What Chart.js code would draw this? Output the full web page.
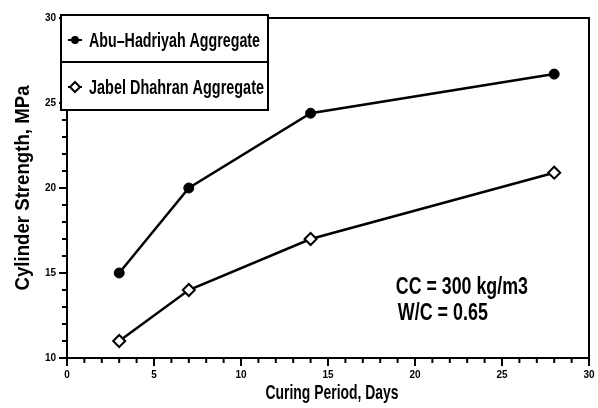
<!DOCTYPE html>
<html>
<head>
<meta charset="utf-8">
<script src="https://cdn.jsdelivr.net/npm/chart.js@4.4.1/dist/chart.umd.min.js"></script>
<style>
  html, body { margin: 0; padding: 0; background: #fff; }
  #wrap { width: 598px; height: 408px; }
</style>
</head>
<body>
<div id="wrap"><canvas id="grafico"></canvas></div>
<script>
// giorni di maturazione e resistenze a compressione (MPa)
const giorni = [3, 7, 14, 28];
const abuHadriyah = [15, 20, 24.4, 26.7];
const jabelDhahran = [11, 14, 17, 20.9];
const etichette = ['Abu\u2013Hadriyah Aggregate', 'Jabel Dhahran Aggregate'];
const titoloX = 'Curing Period, Days';
const titoloY = 'Cylinder Strength, MPa';
const nota = ['CC = 300 kg/m3', 'W/C = 0.65'];

const FONT = '"Liberation Sans", Arial, sans-serif';

function punti(valori) {
    return giorni.map((g, i) => ({ x: g, y: valori[i] }));
}

// testo stretto: schiaccia il carattere in orizzontale fino alla larghezza voluta
function testoStretto(c, testo, x, y, larghezza, ruota) {
    c.save();
    c.translate(x, y);
    if (ruota) c.rotate(-Math.PI / 2);
    const w = c.measureText(testo).width;
    c.scale(larghezza / w, 1);
    c.fillText(testo, 0, 0);
    c.restore();
}

// cornice, tacche minori, legenda a riquadro, titoli e nota
const decorazioni = {
    id: 'decorazioni',
    afterDraw(chart) {
        const c = chart.ctx;
        const a = chart.chartArea;
        const sx = chart.scales.x, sy = chart.scales.y;
        c.save();
        c.strokeStyle = '#000';
        c.fillStyle = '#000';
        c.lineWidth = 2;
        c.strokeRect(a.left, a.top, a.right - a.left, a.bottom - a.top);

        // tacche minori
        c.lineWidth = 2;
        for (let v = 1; v < 30; v++) {
            if (v % 5 === 0) continue;
            const px = sx.getPixelForValue(v);
            c.beginPath(); c.moveTo(px, a.bottom); c.lineTo(px, a.bottom + 5); c.stroke();
        }
        for (let v = 11; v < 30; v++) {
            if (v % 5 === 0) continue;
            const py = sy.getPixelForValue(v);
            c.beginPath(); c.moveTo(a.left, py); c.lineTo(a.left - 5, py); c.stroke();
        }

        // legenda
        const lx = a.left - 6, ly = a.top - 3, lw = 207, lh = 95;
        c.fillStyle = '#fff';
        c.fillRect(lx, ly, lw, lh);
        c.fillStyle = '#000';
        c.lineWidth = 2;
        c.strokeRect(lx, ly, lw, lh);
        c.beginPath(); c.moveTo(lx, ly + 47); c.lineTo(lx + lw, ly + 47); c.stroke();
        c.font = 'bold 21px ' + FONT;
        c.textBaseline = 'middle';
        const larghezze = [171, 175];
        chart.data.datasets.forEach((ds, i) => {
            const cy = ly + 25 + i * 47;
            const mx = lx + 14;
            c.lineWidth = 2;
            c.beginPath(); c.moveTo(mx - 7, cy); c.lineTo(mx + 7, cy); c.stroke();
            if (i === 0) {
                c.beginPath(); c.arc(mx, cy, 4, 0, Math.PI * 2); c.fill();
            } else {
                c.fillStyle = '#fff';
                c.beginPath();
                c.moveTo(mx, cy - 5); c.lineTo(mx + 5, cy);
                c.lineTo(mx, cy + 5); c.lineTo(mx - 5, cy); c.closePath();
                c.fill(); c.stroke();
                c.fillStyle = '#000';
            }
            testoStretto(c, ds.label, lx + 28, cy + 1, larghezze[i]);
        });

        // titoli degli assi
        c.font = 'bold 21px ' + FONT;
        c.textBaseline = 'middle';
        c.textAlign = 'center';
        testoStretto(c, titoloX, (a.left + a.right) / 2 + 4, 393, 133);
        testoStretto(c, titoloY, 23, 188, 205, true);

        // nota sul dosaggio
        c.textAlign = 'left';
        c.textBaseline = 'alphabetic';
        c.font = 'bold 24px ' + FONT;
        const nx = sx.getPixelForValue(18.9);
        testoStretto(c, nota[0], nx, sy.getPixelForValue(13.75), 132);
        testoStretto(c, nota[1], nx + 2, sy.getPixelForValue(12.25), 90);
        c.restore();
    }
};

const scalaComune = {
    border: { display: true, color: '#000', width: 2 },
    grid: {
        display: true,
        drawOnChartArea: false,
        drawTicks: true,
        tickLength: 8,
        lineWidth: 2,
        color: (ctx) => (ctx.tick && ctx.tick.value % 5 === 0) ? '#000' : 'rgba(0,0,0,0)'
    }
};

const grafico = new Chart(document.getElementById('grafico'), {
    type: 'line',
    data: {
        datasets: [{
            label: etichette[0],
            data: punti(abuHadriyah),
            borderColor: '#000',
            borderWidth: 2.5,
            backgroundColor: '#000',
            pointStyle: 'circle',
            pointRadius: 5,
            pointBorderWidth: 1,
            pointBackgroundColor: '#000',
            tension: 0
        }, {
            label: etichette[1],
            data: punti(jabelDhahran),
            borderColor: '#000',
            borderWidth: 2.5,
            backgroundColor: '#fff',
            pointStyle: 'rectRot',
            pointRadius: 6,
            pointBorderWidth: 2,
            pointBackgroundColor: '#fff',
            tension: 0
        }]
    },
    options: {
        responsive: true,
        maintainAspectRatio: false,
        animation: false,
        layout: { padding: { top: 18, right: 9, left: 0, bottom: 0 } },
        plugins: {
            legend: { display: false },
            tooltip: { enabled: false }
        },
        scales: {
            x: {
                ...scalaComune,
                type: 'linear',
                min: 0,
                max: 30,
                ticks: {
                    stepSize: 1,
                    autoSkip: false,
                    maxRotation: 0,
                    color: '#000',
                    padding: 3,
                    font: { family: FONT, size: 10, weight: 'bold' },
                    callback: (v) => v % 5 === 0 ? v : ''
                },
                afterFit(scale) { scale.height = 50; }
            },
            y: {
                ...scalaComune,
                type: 'linear',
                min: 10,
                max: 30,
                ticks: {
                    stepSize: 1,
                    autoSkip: false,
                    color: '#000',
                    padding: 3,
                    font: { family: FONT, size: 10, weight: 'bold' },
                    callback: (v) => v % 5 === 0 ? v : ''
                },
                afterFit(scale) { scale.width = 67; }
            }
        }
    },
    plugins: [decorazioni]
});
</script>
</body>
</html>
